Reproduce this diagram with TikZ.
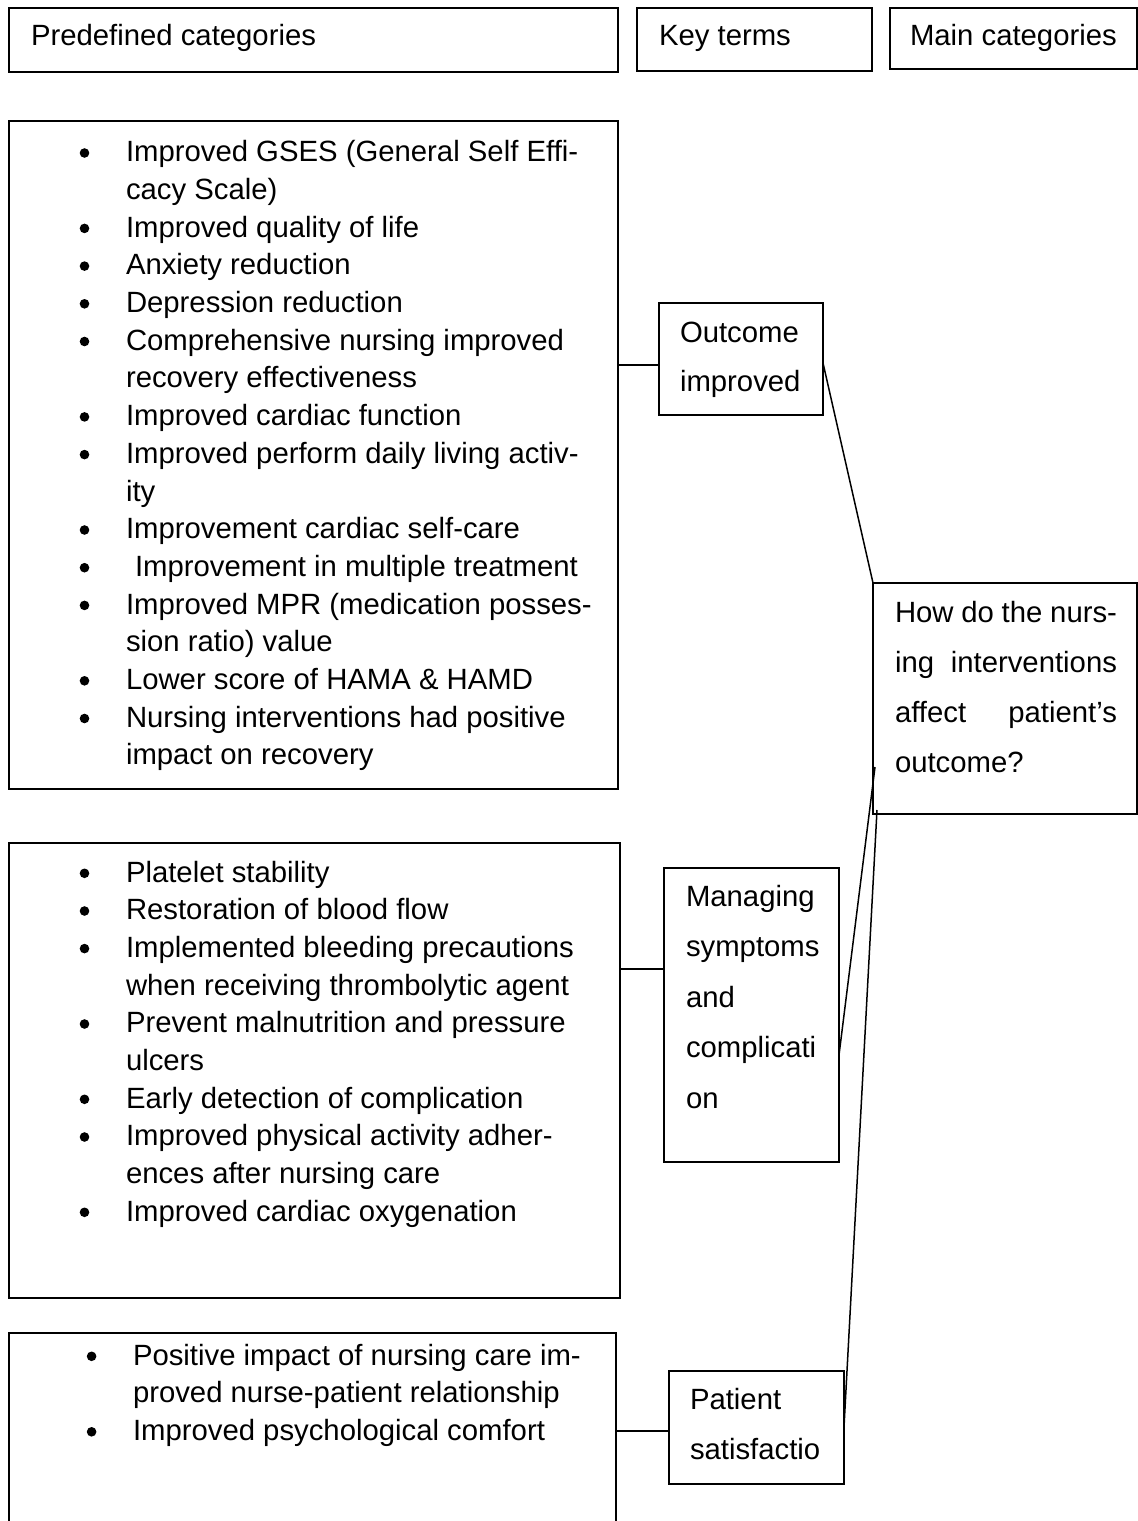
\documentclass[tikz,border=0pt]{standalone}
\usepackage{fontspec}
\setmainfont{Liberation Sans}
\tikzset{
  box/.style={draw, line width=1.4pt, inner sep=0pt, outer sep=0pt, anchor=north west},
  txt/.style={inner sep=0pt, outer sep=0pt, anchor=base west, font=\fontsize{29.3}{37.7}\selectfont},
  conn/.style={line width=1.5pt},
  bul/.style={fill=black}
}
\newcommand\myitem[5]{%
  \fill[bul] (#2,#4-8.7) circle[radius=4.8pt];
  \node[txt] (#1) at (#3,#4) {\parbox[t]{500pt}{\raggedright #5}};
}
\begin{document}
\begin{tikzpicture}[x=1pt,y=-1pt]
\fill[white] (0,0) rectangle (1138,1521);
\useasboundingbox (0,0) rectangle (1138,1521);

% header boxes
\node[box, minimum width=609pt, minimum height=64pt] (pre) at (9,8) {};
\node[box, minimum width=235pt, minimum height=63pt] (key) at (637,8) {};
\node[box, minimum width=247pt, minimum height=61pt] (mainc) at (890,8) {};
\node[txt] (pret) at (31,45) {Predefined categories};
\node[txt] (keyt) at (659,45) {Key terms};
\node[txt] (maint) at (910,45) {Main categories};

% list boxes
\node[box, minimum width=609pt, minimum height=668pt] (l1) at (9,121) {};
\node[box, minimum width=611pt, minimum height=455pt] (l2) at (9,843) {};
\draw[line width=1.4pt] (9,1530) -- (9,1333) coordinate (l3nw) -- (616,1333) coordinate (l3ne) -- (616,1530);
\coordinate (l3e) at (616,1431);

% key term boxes
\node[box, minimum width=164pt, minimum height=112pt] (out) at (659,303) {};
\node[box, minimum width=175pt, minimum height=294pt] (man) at (664,868) {};
\node[box, minimum width=175pt, minimum height=113pt] (pat) at (669,1371) {};
% main category box
\node[box, minimum width=264pt, minimum height=231pt] (q) at (873,583) {};

% key term texts
\node[txt, font=\fontsize{29.3}{49}\selectfont] (outt) at (680,342)
  {\parbox[t]{150pt}{\raggedright Outcome\\improved}};
\node[txt, font=\fontsize{29.3}{50.5}\selectfont] (mant) at (686,906)
  {\parbox[t]{150pt}{\raggedright Managing\\symptoms\\and\\complicati\\on}};
\node[txt, font=\fontsize{29.3}{50}\selectfont] (patt) at (690,1409)
  {\parbox[t]{150pt}{\raggedright Patient\\satisfactio}};
\node[txt, font=\fontsize{29.3}{50.3}\selectfont] (qt) at (895,622)
  {\parbox[t]{222pt}{How do the nurs-\\
   \makebox[222pt][s]{ing interventions}\\
   \makebox[222pt][s]{affect patient’s}\\
   outcome?}};

% list 1
\myitem{a1}{84.5}{126}{161.7}{Improved GSES (General Self Effi-\\cacy Scale)}
\myitem{a2}{84.5}{126}{237.1}{Improved quality of life}
\myitem{a3}{84.5}{126}{274.8}{Anxiety reduction}
\myitem{a4}{84.5}{126}{312.5}{Depression reduction}
\myitem{a5}{84.5}{126}{350.2}{Comprehensive nursing improved\\recovery effectiveness}
\myitem{a6}{84.5}{126}{425.6}{Improved cardiac function}
\myitem{a7}{84.5}{126}{463.3}{Improved perform daily living activ-\\ity}
\myitem{a8}{84.5}{126}{538.7}{Improvement cardiac self-care}
\myitem{a9}{84.5}{135}{576.4}{Improvement in multiple treatment}
\myitem{a10}{84.5}{126}{614.1}{Improved MPR (medication posses-\\sion ratio) value}
\myitem{a11}{84.5}{126}{689.5}{Lower score of HAMA \& HAMD}
\myitem{a12}{84.5}{126}{727.2}{Nursing interventions had positive\\impact on recovery}

% list 2
\myitem{b1}{84.5}{126}{882}{Platelet stability}
\myitem{b2}{84.5}{126}{919.7}{Restoration of blood flow}
\myitem{b3}{84.5}{126}{957.3}{Implemented bleeding precautions\\when receiving thrombolytic agent}
\myitem{b4}{84.5}{126}{1032.7}{Prevent malnutrition and pressure\\ulcers}
\myitem{b5}{84.5}{126}{1108}{Early detection of complication}
\myitem{b6}{84.5}{126}{1145.7}{Improved physical activity adher-\\ences after nursing care}
\myitem{b7}{84.5}{126}{1221}{Improved cardiac oxygenation}

% list 3
\myitem{c1}{91.6}{133}{1365}{Positive impact of nursing care im-\\proved nurse-patient relationship}
\myitem{c2}{91.6}{133}{1440.5}{Improved psychological comfort}

% connectors
\draw[conn] (l1.east |- 0,365) -- (out.west |- 0,365);
\draw[conn] (l2.east |- 0,969) -- (man.west |- 0,969);
\draw[conn] (l3e) -- (pat.west |- l3e);
\draw[conn] (out.east |- 0,363) -- (q.north west);
\draw[conn] (man.east |- 0,1055) -- ([xshift=2pt]q.west |- 0,767);
\draw[conn] (pat.east |- 0,1427) -- ([xshift=4pt]q.west |- 0,810);
\end{tikzpicture}
\end{document}
